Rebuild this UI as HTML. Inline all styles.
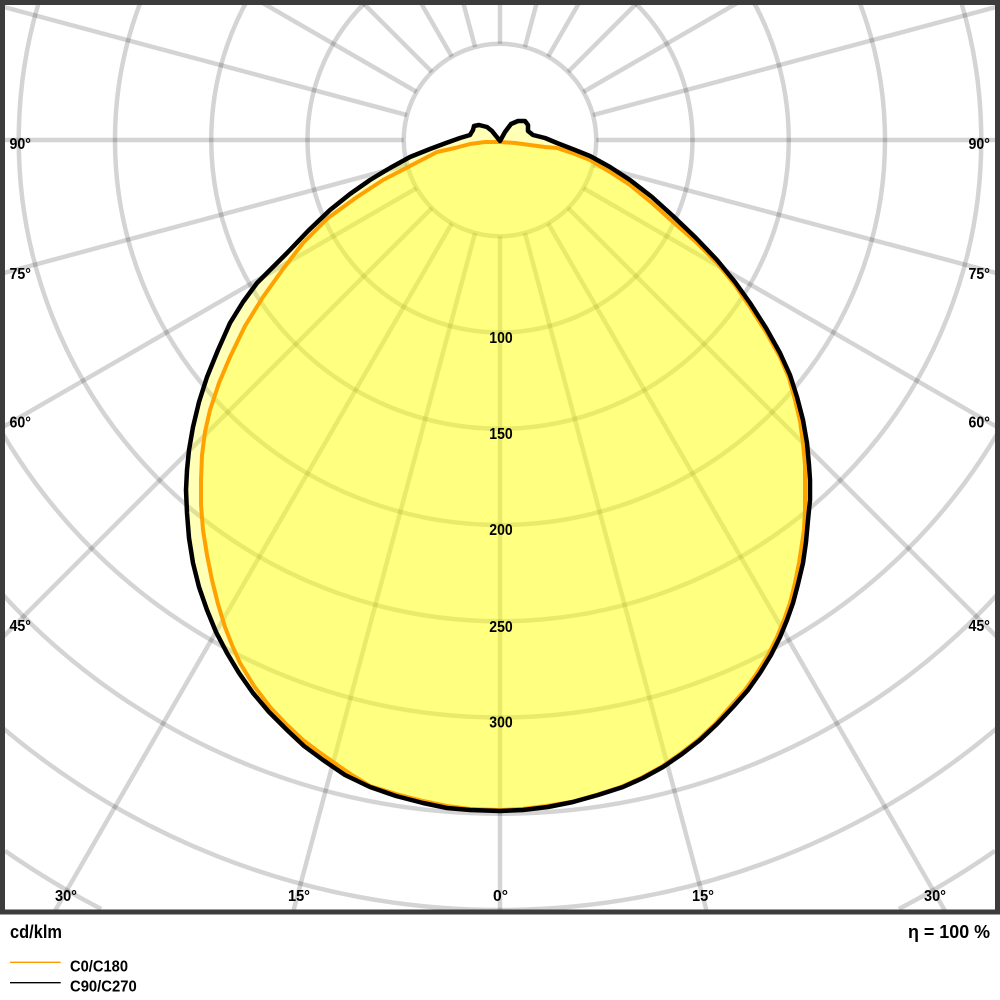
<!DOCTYPE html>
<html>
<head>
<meta charset="utf-8">
<style>
  html, body { margin: 0; padding: 0; background: #ffffff; width: 1000px; height: 1000px; overflow: hidden; }
  svg { display: block; }
  text { font-family: "Liberation Sans", Arial, sans-serif; font-weight: bold; fill: #000; }
</style>
</head>
<body>
<svg width="1000" height="1000" viewBox="0 0 1000 1000" xmlns="http://www.w3.org/2000/svg">
  <defs>
    <clipPath id="plot">
      <rect x="5" y="5" width="990" height="904.5"/>
    </clipPath>
  </defs>
  <rect x="0" y="0" width="1000" height="1000" fill="#ffffff"/>

  <g clip-path="url(#plot)">
    <!-- grid circles -->
    <g fill="none" stroke="#000" stroke-opacity="0.17" stroke-width="4.5">
      <circle cx="500" cy="140" r="96.25"/>
      <circle cx="500" cy="140" r="192.5"/>
      <circle cx="500" cy="140" r="288.75"/>
      <circle cx="500" cy="140" r="385"/>
      <circle cx="500" cy="140" r="481.25"/>
      <circle cx="500" cy="140" r="577.5"/>
      <circle cx="500" cy="140" r="673.75"/>
      <circle cx="500" cy="140" r="770"/>
      <path d="M 5 850.9 A 866.25 866.25 0 0 0 101.2 909"/>
      <path d="M 898.8 909 A 866.25 866.25 0 0 0 995 850.9"/>
    </g>
    <!-- grid radial lines -->
    <g fill="none" stroke="#000" stroke-opacity="0.17" stroke-width="4.5">
      <line x1="500" y1="236.25" x2="500" y2="912"/>
      <line x1="475.09" y1="232.97" x2="293.1" y2="912"/>
      <line x1="524.91" y1="232.97" x2="706.9" y2="912"/>
      <line x1="451.87" y1="223.36" x2="54.3" y2="912"/>
      <line x1="548.13" y1="223.36" x2="945.7" y2="912"/>
      <line x1="431.94" y1="208.06" x2="0" y2="640"/>
      <line x1="568.06" y1="208.06" x2="1000" y2="640"/>
      <line x1="416.64" y1="188.13" x2="0" y2="428.7"/>
      <line x1="583.36" y1="188.13" x2="1000" y2="428.7"/>
      <line x1="407.03" y1="164.91" x2="0" y2="274"/>
      <line x1="592.97" y1="164.91" x2="1000" y2="274"/>
      <line x1="403.75" y1="140" x2="0" y2="140"/>
      <line x1="596.25" y1="140" x2="1000" y2="140"/>
      <line x1="407.03" y1="115.09" x2="0" y2="6"/>
      <line x1="592.97" y1="115.09" x2="1000" y2="6"/>
      <line x1="416.64" y1="91.87" x2="257.5" y2="0"/>
      <line x1="583.36" y1="91.87" x2="742.5" y2="0"/>
      <line x1="431.94" y1="71.94" x2="360" y2="0"/>
      <line x1="568.06" y1="71.94" x2="640" y2="0"/>
      <line x1="451.87" y1="56.64" x2="419.2" y2="0"/>
      <line x1="548.13" y1="56.64" x2="580.8" y2="0"/>
      <line x1="475.09" y1="47.03" x2="462.5" y2="0"/>
      <line x1="524.91" y1="47.03" x2="537.5" y2="0"/>
      <line x1="500" y1="43.75" x2="500" y2="0"/>
    </g>

    <!-- fills -->
    <polygon fill="#ffff00" fill-opacity="0.29" stroke="none" points="
500,142 515,143 530,145 545,147 557,148 575,154 590,160 610,172 630,185 652,203 673,222 696,242 717,263 735,285 750,307 766,332 780,357 789,378 795,400 800,421 803,443 805,465 805,490 805,510 804,530 801,550 799,563 795,583 790,603 784,620 777,637 768,655 757,673 745,690 730,707 715,724 698,740 680,754 661,767 641,778 621,787 596,795 571,802 546,806 522,809 500,810 470,809 447,806 423,801 396,794 370,786 352,775 336,764 319,752 303,740 286,724 270,707 254,686 240,663 232,645 225,627 218,604 212,580 207,555 203,530 201,505 201,480 202,455 205,432 210,410 219,383 230,357 245,326 263,297 283,269 303,243 328,218 357,197 383,180 410,166 437,152 455,148 470,144 485,142"/>
    <polygon fill="#ffff00" fill-opacity="0.29" stroke="none" points="
500,141 505,132 511,124 518,121 525,121 528,125 528,131 533,135 545,138 557,143 575,150 590,156 610,167 630,180 652,197 673,216 696,238 717,260 735,282 750,303 766,328 780,353 790,375 797,397 803,420 807,443 809,465 810,480 810,500 808,520 806,542 803,563 798,584 793,603 787,620 780,637 771,655 760,673 748,690 733,707 717,724 700,740 682,754 663,767 643,778 623,787 598,795 573,802 548,807 523,810 500,811 470,810 447,808 423,803 396,796 370,787 345,775 323,760 304,746 287,730 269,712 253,693 239,673 227,653 216,632 207,610 199,587 193,563 189,538 187,513 186,490 187,470 189,450 193,427 199,402 207,377 218,350 230,323 243,302 257,283 272,268 287,253 308,231 330,210 350,194 370,180 390,168 410,157 430,149 446,143 460,138 470,135 473,130 474,126 479,125 487,127 492,131 496,136"/>

    <!-- strokes -->
    <polygon fill="none" stroke="#ffa200" stroke-width="4" stroke-linejoin="round" points="
500,142 515,143 530,145 545,147 557,148 575,154 590,160 610,172 630,185 652,203 673,222 696,242 717,263 735,285 750,307 766,332 780,357 789,378 795,400 800,421 803,443 805,465 805,490 805,510 804,530 801,550 799,563 795,583 790,603 784,620 777,637 768,655 757,673 745,690 730,707 715,724 698,740 680,754 661,767 641,778 621,787 596,795 571,802 546,806 522,809 500,810 470,809 447,806 423,801 396,794 370,786 352,775 336,764 319,752 303,740 286,724 270,707 254,686 240,663 232,645 225,627 218,604 212,580 207,555 203,530 201,505 201,480 202,455 205,432 210,410 219,383 230,357 245,326 263,297 283,269 303,243 328,218 357,197 383,180 410,166 437,152 455,148 470,144 485,142"/>
    <polygon fill="none" stroke="#000000" stroke-width="4.5" stroke-linejoin="round" points="
500,141 505,132 511,124 518,121 525,121 528,125 528,131 533,135 545,138 557,143 575,150 590,156 610,167 630,180 652,197 673,216 696,238 717,260 735,282 750,303 766,328 780,353 790,375 797,397 803,420 807,443 809,465 810,480 810,500 808,520 806,542 803,563 798,584 793,603 787,620 780,637 771,655 760,673 748,690 733,707 717,724 700,740 682,754 663,767 643,778 623,787 598,795 573,802 548,807 523,810 500,811 470,810 447,808 423,803 396,796 370,787 345,775 323,760 304,746 287,730 269,712 253,693 239,673 227,653 216,632 207,610 199,587 193,563 189,538 187,513 186,490 187,470 189,450 193,427 199,402 207,377 218,350 230,323 243,302 257,283 272,268 287,253 308,231 330,210 350,194 370,180 390,168 410,157 430,149 446,143 460,138 470,135 473,130 474,126 479,125 487,127 492,131 496,136"/>
  </g>

  <!-- frame -->
  <rect x="2.5" y="2.5" width="995" height="909.5" fill="none" stroke="#3c3c3c" stroke-width="5"/>

  <!-- value labels -->
  <g font-size="16">
    <text x="489.3" y="343" textLength="23.4" lengthAdjust="spacingAndGlyphs">100</text>
    <text x="489.3" y="439" textLength="23.4" lengthAdjust="spacingAndGlyphs">150</text>
    <text x="489.3" y="535" textLength="23.4" lengthAdjust="spacingAndGlyphs">200</text>
    <text x="489.3" y="632" textLength="23.4" lengthAdjust="spacingAndGlyphs">250</text>
    <text x="489.3" y="727.5" textLength="23.4" lengthAdjust="spacingAndGlyphs">300</text>
  </g>

  <!-- angle labels -->
  <g font-size="15.5">
    <text x="9.5" y="149" textLength="21.4" lengthAdjust="spacingAndGlyphs">90°</text>
    <text x="9.5" y="279" textLength="21.4" lengthAdjust="spacingAndGlyphs">75°</text>
    <text x="9.5" y="427.5" textLength="21.4" lengthAdjust="spacingAndGlyphs">60°</text>
    <text x="9.5" y="631" textLength="21.4" lengthAdjust="spacingAndGlyphs">45°</text>
    <text x="968.5" y="149" textLength="21.4" lengthAdjust="spacingAndGlyphs">90°</text>
    <text x="968.5" y="279" textLength="21.4" lengthAdjust="spacingAndGlyphs">75°</text>
    <text x="968.5" y="427.5" textLength="21.4" lengthAdjust="spacingAndGlyphs">60°</text>
    <text x="968.5" y="631" textLength="21.4" lengthAdjust="spacingAndGlyphs">45°</text>
    <text x="55" y="901" textLength="22" lengthAdjust="spacingAndGlyphs">30°</text>
    <text x="288" y="901" textLength="22" lengthAdjust="spacingAndGlyphs">15°</text>
    <text x="493" y="901" textLength="15" lengthAdjust="spacingAndGlyphs">0°</text>
    <text x="692" y="901" textLength="22" lengthAdjust="spacingAndGlyphs">15°</text>
    <text x="924" y="901" textLength="22" lengthAdjust="spacingAndGlyphs">30°</text>
  </g>

  <!-- footer -->
  <text x="10" y="938" font-size="18" textLength="52" lengthAdjust="spacingAndGlyphs">cd/klm</text>
  <text x="908" y="938" font-size="18" textLength="82" lengthAdjust="spacingAndGlyphs">η = 100 %</text>

  <!-- legend -->
  <line x1="10" y1="962.3" x2="60.7" y2="962.3" stroke="#ff9900" stroke-width="1.3"/>
  <line x1="10" y1="982.7" x2="60.7" y2="982.7" stroke="#000000" stroke-width="1.3"/>
  <text x="70" y="971.7" font-size="16" textLength="58" lengthAdjust="spacingAndGlyphs">C0/C180</text>
  <text x="70" y="991.5" font-size="16" textLength="66.7" lengthAdjust="spacingAndGlyphs">C90/C270</text>
</svg>
</body>
</html>
